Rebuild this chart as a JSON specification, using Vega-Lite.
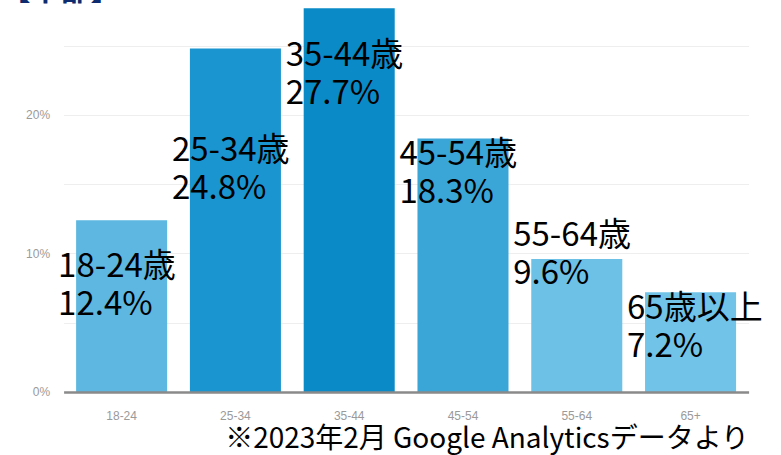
{
  "$schema": "https://vega.github.io/schema/vega-lite/v6.json",
  "width": 685,
  "height": 392,
  "autosize": {"type": "none"},
  "padding": {"left": 63.6, "top": 0, "right": 32, "bottom": 63},
  "background": "white",
  "title": {
    "text": "【中部】",
    "anchor": "start",
    "frame": "group",
    "orient": "top",
    "dx": -63,
    "offset": -30,
    "baseline": "alphabetic",
    "fontSize": 30,
    "fontWeight": "bold",
    "color": "#0d2b6e",
    "font": "Noto Sans CJK JP"
  },
  "config": {
    "view": {"stroke": null},
    "font": "Noto Sans CJK JP"
  },
  "data": {
    "values": [
      {"age": "18-24", "label": "18-24歳", "value": 0.124, "labelY": 0.0830},
      {"age": "25-34", "label": "25-34歳", "value": 0.248, "labelY": 0.1668},
      {"age": "35-44", "label": "35-44歳", "value": 0.277, "labelY": 0.2354},
      {"age": "45-54", "label": "45-54歳", "value": 0.183, "labelY": 0.1639},
      {"age": "55-64", "label": "55-64歳", "value": 0.096, "labelY": 0.1054},
      {"age": "65+", "label": "65歳以上", "value": 0.072, "labelY": 0.0527}
    ]
  },
  "encoding": {
    "x": {
      "field": "age",
      "type": "nominal",
      "sort": null,
      "scale": {"paddingInner": 0.2, "paddingOuter": 0.11},
      "axis": {
        "title": "※2023年2月 Google Analyticsデータより",
        "titleAnchor": "end",
        "titleFontSize": 28,
        "titleFontWeight": "normal",
        "titleColor": "#000000",
        "titleFont": "Noto Sans CJK JP",
        "titlePadding": 4,
        "labelAngle": 0,
        "labelColor": "#9a9a9a",
        "labelFontSize": 12,
        "labelFont": "Liberation Sans",
        "labelPadding": 19,
        "ticks": false,
        "domainColor": "#8a8a8a",
        "domainWidth": 2.5,
        "zindex": 1
      }
    }
  },
  "layer": [
    {
      "mark": {"type": "bar"},
      "encoding": {
        "y": {
          "field": "value",
          "type": "quantitative",
          "scale": {"domain": [0, 0.283], "nice": false, "zero": true},
          "axis": {
            "title": null,
            "values": [0, 0.05, 0.1, 0.15, 0.2, 0.25],
            "labelExpr": "(round(datum.value*100) % 10 == 0) ? format(datum.value, '.0%') : ''",
            "domain": false,
            "ticks": false,
            "gridColor": "#eeeeee",
            "gridWidth": 1,
            "labelColor": "#9a9a9a",
            "labelFontSize": 12,
            "labelFont": "Liberation Sans",
            "labelPadding": 14
          }
        },
        "color": {
          "field": "age",
          "type": "nominal",
          "sort": null,
          "legend": null,
          "scale": {
            "domain": ["18-24", "25-34", "35-44", "45-54", "55-64", "65+"],
            "range": ["#5db7e0", "#1a95cf", "#0a8bc7", "#3aa6d8", "#6dc0e6", "#71c3e8"]
          }
        }
      }
    },
    {
      "mark": {
        "type": "text",
        "align": "left",
        "baseline": "alphabetic",
        "dx": -18,
        "fontSize": 33,
        "color": "#000000",
        "font": "Noto Sans CJK JP"
      },
      "encoding": {
        "x": {"field": "age", "type": "nominal", "sort": null, "bandPosition": 0},
        "y": {"field": "labelY", "type": "quantitative"},
        "text": {"field": "label"}
      }
    },
    {
      "mark": {
        "type": "text",
        "align": "left",
        "baseline": "alphabetic",
        "dx": -18,
        "dy": 38,
        "fontSize": 33,
        "color": "#000000",
        "font": "Noto Sans CJK JP"
      },
      "encoding": {
        "x": {"field": "age", "type": "nominal", "sort": null, "bandPosition": 0},
        "y": {"field": "labelY", "type": "quantitative"},
        "text": {"field": "value", "type": "quantitative", "format": ".1%"}
      }
    }
  ]
}
